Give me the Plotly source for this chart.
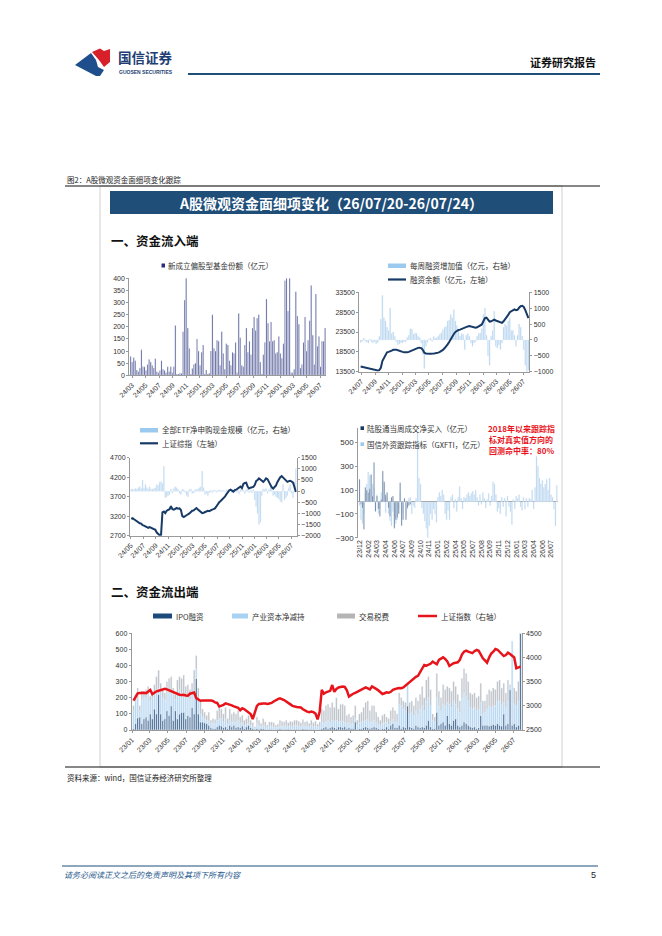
import pandas as pd
import plotly.graph_objects as go

W, H = 662, 936
END = "2026-07-24"
OFF = 8  # the page body adds an 8px margin around the figure

# ---------------- data (weekly) ----------------
# 新成立偏股型基金份额（亿元）
fund_new = [78, 55, 72, 60, 22, 15, 30, 105, 35, 35,
            20, 45, 65, 55, 40, 30, 68, 15, 10,
            20, 60, 25, 20, 10, 35, 15, 35, 10,
            35, 205, 5, 5, 8, 8, 180, 310, 400,
            195, 110, 5, 28, 45, 50, 150, 100, 40,
            95, 125, 5, 22, 5, 8, 100, 250, 110,
            100, 145, 140, 40, 180, 90, 25, 130, 125,
            60, 40, 95, 90, 135, 10, 255, 155, 40,
            35, 125, 195, 95, 140, 85, 195, 240, 185,
            235, 250, 55, 5, 85, 135, 315, 215, 140,
            220, 140, 145, 90, 95, 160, 90, 70, 130,
            390, 400, 265, 400, 10, 10, 25, 345, 245,
            210, 30, 45, 135, 240, 100, 145, 225, 370,
            165, 45, 335, 120, 160, 35, 140, 140, 195]

# 融资余额（亿元，左轴）
margin_bal = [14800, 14700, 14600, 14500, 14400, 14300, 14250, 14200, 14100, 14000,
              13900, 13800, 13900, 14500, 16200, 17000, 17800, 18400, 18500, 18600,
              18800, 19000, 19100, 19050, 18900, 18700, 18600, 18500, 18400, 18350,
              18400, 18500, 18700, 18900, 19000, 19200, 19400, 19500, 19550, 19450,
              19000, 18300, 18100, 18000, 18000, 18050, 18000, 18100, 18150, 18200,
              18300, 18500, 18700, 19000, 19400, 19800, 20400, 21000, 21800, 22500,
              23000, 23500, 23800, 24000, 24100, 24300, 24500, 24600, 24700, 24900,
              25000, 24900, 24700, 24600, 24600, 24700, 24900, 25100, 25400, 26200,
              27000, 27100, 26600, 26100, 26200, 26500, 26600, 26400, 26200, 26100,
              25900, 25800, 26200, 26700, 27100, 27800, 28500, 28800, 29100, 29200,
              29000, 29100, 29600, 30000, 30100, 29800, 29000, 28000, 27000]
# 每周融资增加值（亿元，右轴）
margin_chg = [-80, -50, 60, -40, -70, -100, 30, -60, -90, -50,
              -120, -80, 120, 650, 1400, 700, 600, 400, 300, 1000,
              200, 250, 120, -60, -150, -120, -100, -90, -50, -60,
              80, 150, 350, 340, 180, 220, 200, 120, 80, -100,
              -450, -900, -200, -80, 20, 60, -40, 110, 60, 70,
              120, 180, 230, 320, 400, 420, 600, 620, 800, 700,
              950, 600, 450, 280, 120, 200, 180, -300, 150, 200,
              120, -100, -200, -100, -60, 120, 200, 220, 350, 800,
              1000, 150, -500, -800, 120, 300, 900, -200, -250, -150,
              -300, -100, 400, 500, 450, 600, 700, 300, 300, 150,
              -200, 150, 500, 400, 120, -300, -800, -1000, -950]

# 上证综指（左轴）
sh_index_a = [3130, 3150, 3120, 3090, 3060, 3040, 3020, 3010, 2970, 2960,
              2940, 2930, 2900, 2920, 2900, 2880, 2860, 2850, 2780, 2740,
              2710, 2720, 3300, 3320, 3280, 3340, 3360, 3380, 3460, 3380,
              3370, 3400, 3410, 3390, 3400, 3360, 3200, 3180, 3210, 3240,
              3250, 3270, 3320, 3340, 3350, 3380, 3410, 3370, 3340, 3320,
              3280, 3290, 3310, 3320, 3340, 3330, 3360, 3370, 3380, 3400,
              3450, 3510, 3560, 3590, 3620, 3660, 3700, 3760, 3820, 3860,
              3880, 3850, 3830, 3870, 3880, 3910, 3940, 3960, 3920, 4030,
              4050, 4060, 3960, 3910, 3930, 3940, 3950, 4000, 4100, 4130,
              4170, 4140, 4120, 4080, 4120, 4170, 4150, 4080, 3980, 3940,
              3910, 3950, 3990, 4080, 4150, 4200, 4230, 4190, 4160, 4120,
              4080, 4100, 4110, 4090, 4060, 3950, 3820]
# 全部ETF净申购现金规模（亿元，右轴）
etf_flow = [80, 100, 60, 120, 90, 150, 200, 120, 500, 130,
            300, 150, 100, 200, 100, 80, 120, 150, 300, 250,
            400, 420, 350, 1100, -300, -250, -200, -150, 100, -80,
            120, 200, 150, 80, -100, -150, 80, 60, -50, -200,
            -250, 60, 100, -100, -80, 80, 50, 100, 150, 200,
            900, 150, -150, -100, -200, -80, 50, -60, 40, 30,
            -50, 30, 60, -40, 50, 30, -40, 60, 50, 80,
            100, -80, 60, 120, -60, 100, -120, 60, 80, 40,
            -100, 60, 120, -60, 50, -80, 80, -400, -700, -1000,
            -1500, -1400, -200, 100, 80, 120, -100, 60, 150, 100,
            -200, -150, -250, -300, -350, -450, -500, 300, -400, -300,
            -200, 150, 300, -100, -300, 400, 1000]

# 陆股通当周成交净买入（亿元）
hk_north = [190, -20, -50, -230, 120, 100, 80, 110, 230, 50,
            330, -80, 50, -60, -120, 20, 260, 170, 60, 80,
            -50, -120, 40, 50, -220, -150, -130, -100, 160, -200,
            -150, 30, -150, -50, -30, -20]
# 国信外资跟踪指标（GXFTI，亿元）
gxfti = [-30, -150, -180, -100, 80, 150, 250, 220, 100, 150,
         120, -80, 60, -100, -60, 80, 180, 150, -90, 40,
         -100, -160, -200, -80, -120, -180, -150, -60, 80, -100,
         -90, 20, -110, -60, 30, 40, -100, -30, -50, 30,
         590, 200, 150, -50, -100, -160, -220, -300, -200, -100,
         -150, -60, -100, -170, 40, 80, 50, 100, 60, -100,
         -150, -70, -150, 40, 60, -50, 20, -80, 40, 130,
         30, -60, 40, 30, 60, 80, 50, 70, 90, 60,
         100, 40, -30, 60, -20, 80, 30, -50, 20, 70,
         -30, 50, 170, 150, 60, -80, -50, -100, 40, -40,
         30, -120, 50, -40, -80, -190, 20, -60, 50, 30,
         60, -40, -70, 40, -60, 30, -40, 30, 20, 100,
         -60, 120, 380, 300, 200, 150, 180, 120, 150, 190,
         100, 200, 60, 40, -60, -200, 140]
gxfti_ticks = ["23/12", "24/02", "24/03", "24/04", "24/06", "24/07", "24/09", "24/10",
               "24/11", "25/01", "25/02", "25/04", "25/05", "25/07", "25/08", "25/09",
               "25/11", "25/12", "26/01", "26/03", "26/04", "26/06", "26/07"]

# 资金流出端（亿元）与上证指数（右轴）
out_ipo = [10, 40, 75, 80, 40, 70, 80, 60, 100, 70, 130, 100,
           220, 100, 60, 70, 120, 90, 150, 60, 120, 70, 100, 110,
           110, 70, 90, 80, 140, 100, 320, 100, 50, 50, 45, 40,
           30, 15, 10, 10, 20, 30, 25, 15, 20, 10, 30, 20,
           30, 15, 20, 15, 25, 10, 20, 30, 15, 10, 5, 10,
           5, 10, 8, 5, 3, 5, 5, 3, 3, 5, 8, 5,
           3, 5, 5, 5, 3, 5, 5, 5, 3, 8, 5, 5,
           3, 5, 5, 3, 3, 5, 10, 15, 20, 10, 15, 20,
           15, 10, 20, 20, 15, 20, 10, 15, 10, 10, 50, 5,
           10, 10, 15, 20, 15, 10, 15, 20, 15, 10, 5, 10,
           10, 20, 10, 30, 40, 15, 15, 30, 10, 20, 15, 150,
           20, 15, 10, 30, 20, 15, 20, 15, 30, 60, 20, 10,
           10, 110, 30, 40, 50, 30, 90, 40, 30, 60, 70, 30,
           20, 30, 50, 40, 30, 20, 15, 20, 10, 15, 90, 30,
           30, 30, 25, 30, 35, 30, 40, 30, 25, 100, 30, 40,
           250, 30, 40, 20, 30, 600]
out_holder = [110, 140, 125, 40, 150, 130, 120, 160, 80, 130, 100, 150,
              40, 140, 140, 120, 110, 140, 80, 160, 70, 160, 150, 120,
              120, 130, 120, 110, 80, 140, 60, 100, 50, 30, 25, 20,
              25, 25, 35, 30, 40, 40, 45, 35, 50, 30, 30, 30,
              25, 35, 40, 25, 20, 20, 15, 15, 15, 15, 5, 30,
              20, 10, 22, 20, 12, 20, 20, 17, 12, 13, 17, 20,
              22, 23, 17, 20, 19, 23, 23, 20, 17, 22, 20, 20,
              17, 23, 17, 22, 15, 17, 40, 30, 35, 50, 35, 40,
              40, 50, 30, 35, 40, 30, 30, 30, 25, 30, 20, 25,
              35, 40, 40, 40, 50, 40, 40, 40, 30, 25, 25, 30,
              35, 30, 25, 25, 25, 35, 35, 130, 140, 110, 105, 130,
              80, 95, 80, 90, 80, 115, 130, 105, 150, 140, 130, 50,
              40, 90, 120, 80, 110, 120, 80, 120, 110, 120, 90, 100,
              90, 170, 180, 170, 150, 120, 115, 120, 110, 115, 80, 70,
              80, 100, 125, 110, 115, 120, 140, 150, 135, 70, 110, 140,
              20, 520, 120, 130, 150, 0]
out_fee = [30, 40, 60, 30, 50, 40, 50, 50, 30, 40, 50, 80,
           110, 50, 50, 40, 70, 90, 100, 40, 30, 80, 80, 90,
           110, 70, 70, 60, 70, 130, 80, 60, 80, 50, 40, 30,
           55, 20, 25, 25, 60, 70, 60, 50, 70, 30, 70, 50,
           55, 50, 60, 40, 45, 30, 35, 45, 30, 20, 10, 40,
           35, 20, 40, 25, 15, 25, 25, 25, 15, 17, 35, 30,
           25, 32, 23, 30, 28, 32, 32, 30, 25, 35, 25, 30,
           20, 32, 23, 30, 17, 28, 80, 75, 95, 100, 90, 110,
           85, 140, 80, 105, 105, 100, 50, 55, 45, 50, 80, 30,
           55, 60, 85, 110, 115, 70, 95, 90, 65, 45, 30, 50,
           55, 30, 35, 65, 75, 70, 50, 70, 50, 50, 50, 10,
           70, 70, 60, 80, 80, 90, 120, 80, 130, 130, 100, 40,
           30, 150, 90, 80, 120, 100, 100, 100, 100, 120, 110, 90,
           70, 120, 150, 140, 120, 90, 90, 90, 80, 80, 120, 80,
           70, 90, 100, 100, 110, 100, 120, 130, 100, 120, 90, 130,
           10, 0, 100, 90, 120, 0]
out_sh = [3106, 3190, 3258, 3265, 3270, 3268, 3262, 3290, 3327, 3240, 3280, 3300,
          3313, 3330, 3348, 3350, 3340, 3320, 3300, 3280, 3258, 3245, 3230, 3223,
          3230, 3215, 3210, 3250, 3270, 3275, 3160, 3130, 3106, 3110, 3115, 3120,
          3110, 3108, 3100, 3070, 3060, 2985, 3000, 3020, 3050, 3040, 3030, 3010,
          2990, 2970, 2960, 2910, 2950, 2930, 2900, 2860, 2830, 2727, 2880, 3000,
          3040, 3050, 3050, 3048, 3040, 3050, 3060, 3090, 3120, 3140, 3155, 3140,
          3120, 3090, 3050, 3030, 3000, 2982, 2975, 2970, 2965, 2930, 2900, 2880,
          2870, 2880, 2870, 2840, 2720, 2880, 3330, 3250, 3280, 3300, 3310, 3430,
          3290, 3350, 3380, 3390, 3400, 3390, 3320, 3190, 3230, 3250, 3270, 3290,
          3310, 3330, 3360, 3380, 3360, 3340, 3400, 3380, 3350, 3320, 3290, 3244,
          3260, 3280, 3270, 3290, 3330, 3350, 3360, 3370, 3365, 3380, 3420, 3450,
          3490, 3530, 3570, 3600, 3620, 3700, 3780, 3845, 3830, 3850, 3870, 3914,
          3880, 3860, 3948, 3980, 4003, 3970, 3920, 3824, 3860, 3880, 3890, 3900,
          3950, 4060, 4120, 4141, 4120, 4110, 4090, 4130, 4155, 4140, 4050, 3983,
          3940, 3893, 4000, 4080, 4120, 4176, 4160, 4120, 4060, 4030, 4050, 4100,
          4070, 4040, 4000, 3776, 3800, 3810]


def weeks(vals):
    return pd.date_range(end=END, periods=len(vals), freq="7D")


def px(x):
    return (x - OFF) / W


def py(y):
    return 1 - (y - OFF) / H


def xr(d):
    return [d[0] - pd.Timedelta(days=6), d[-1] + pd.Timedelta(days=4)]


d1 = weeks(fund_new)
d2 = weeks(margin_bal)
d3 = weeks(sh_index_a)
d4 = weeks(gxfti)
d5 = weeks(out_sh)

NAVY = "#173a66"
LBLUE = "#9ccaee"
RED = "#e8141b"
TXT = "#333333"
AX = "#9a9a9a"
FONT = "Liberation Sans, Noto Sans CJK SC, sans-serif"
CJK = "Noto Sans CJK SC, sans-serif"

fig = go.Figure()

# chart 1
fig.add_trace(go.Bar(x=d1, y=fund_new, marker_color="#1c1d6b", xaxis="x", yaxis="y"))
# chart 2
fig.add_trace(go.Bar(x=d2, y=margin_chg, marker_color=LBLUE, xaxis="x2", yaxis="y2"))
fig.add_trace(go.Scatter(x=d2, y=margin_bal, mode="lines", line=dict(color=NAVY, width=2),
                         xaxis="x2", yaxis="y3"))
# chart 3
fig.add_trace(go.Bar(x=d3, y=etf_flow, marker_color=LBLUE, xaxis="x3", yaxis="y4"))
fig.add_trace(go.Scatter(x=d3, y=sh_index_a, mode="lines", line=dict(color=NAVY, width=2),
                         xaxis="x3", yaxis="y5"))
# chart 4
fig.add_trace(go.Bar(x=d4, y=gxfti, marker_color=LBLUE, xaxis="x4", yaxis="y6"))
fig.add_trace(go.Bar(x=d4[:len(hk_north)], y=hk_north, marker_color=NAVY, xaxis="x4", yaxis="y6"))
# chart 5 (stacked by hand with base)
base2 = [a + b for a, b in zip(out_ipo, out_holder)]
fig.add_trace(go.Bar(x=d5, y=out_ipo, marker_color="#1d4a7a", xaxis="x5", yaxis="y7"))
fig.add_trace(go.Bar(x=d5, y=out_holder, base=out_ipo, marker_color="#a8d2f2", xaxis="x5", yaxis="y7"))
fig.add_trace(go.Bar(x=d5, y=out_fee, base=base2, marker_color="#b5b5b5", xaxis="x5", yaxis="y7"))
fig.add_trace(go.Scatter(x=d5, y=out_sh, mode="lines", line=dict(color=RED, width=2.5),
                         xaxis="x5", yaxis="y8"))

tick = dict(size=7, color=TXT, family=FONT)


def xdate(dom, anchor, d, t0, angle=-45):
    return dict(domain=dom, anchor=anchor, type="date", range=xr(d), tickformat="%y/%m",
                dtick="M2", tick0=t0, tickangle=angle, showline=True, linecolor=AX,
                linewidth=1, ticks="outside", ticklen=2, tickcolor=AX, tickfont=tick,
                showgrid=False, zeroline=False, automargin=False)


def yax(dom, rng, dt, t0=0, side="left", overlay=None, anchor=None, **kw):
    a = dict(domain=dom, range=rng, dtick=dt, tick0=t0, side=side, showline=True,
             linecolor=AX, linewidth=1, ticks="outside", ticklen=2, tickcolor=AX,
             tickfont=tick, tickformat="d", showgrid=False, zeroline=False,
             anchor=anchor, automargin=False)
    if overlay:
        a["overlaying"] = overlay
    a.update(kw)
    return a


X1 = [px(129.3), px(326)]
Y1 = [py(375.3), py(278.3)]
X2 = [px(359.3), px(529.3)]
Y2 = [py(371.7), py(292.3)]
X3 = [px(130), px(296.7)]
Y3 = [py(535.7), py(457.7)]
X4 = [px(358.3), px(557.7)]
Y4 = [py(537.7), py(428)]
X5 = [px(131.7), px(521.7)]
Y5 = [py(730), py(633.3)]

fig.update_layout(
    width=W, height=H, margin=dict(l=0, r=0, t=0, b=0, autoexpand=False),
    paper_bgcolor="white", plot_bgcolor="rgba(0,0,0,0)",
    showlegend=False, barmode="overlay", bargap=0.35,
    font=dict(family=FONT, color=TXT),
    xaxis=xdate(X1, "y", d1, "2024-03-01"),
    yaxis=yax(Y1, [0, 400], 50, anchor="x"),
    xaxis2=xdate(X2, "y2", d2, "2024-07-01"),
    yaxis2=yax(Y2, [-1000, 1500], 500, side="right", anchor="x2"),
    yaxis3=yax(Y2, [13500, 33500], 5000, t0=13500, side="left", overlay="y2", anchor="x2"),
    xaxis3=xdate(X3, "y4", d3, "2024-05-01"),
    yaxis4=yax(Y3, [-2000, 1500], 500, side="right", anchor="x3"),
    yaxis5=yax(Y3, [2700, 4700], 500, t0=2700, side="left", overlay="y4", anchor="x3"),
    xaxis4=dict(domain=X4, anchor="y6", type="date", range=xr(d4),
                tickvals=list(d4[::6][:len(gxfti_ticks)]), ticktext=gxfti_ticks,
                tickangle=-90, showline=False, ticks="", tickfont=tick, showgrid=False,
                zeroline=False, automargin=False),
    yaxis6=yax(Y4, [-300, 620], None, anchor="x4", tickvals=[-300, -100, 100, 300, 500],
               zeroline=True, zerolinecolor=AX, zerolinewidth=1,
               tickfont=dict(size=8, color=TXT, family=FONT)),
    xaxis5=xdate(X5, "y7", d5, "2023-01-01"),
    yaxis7=yax(Y5, [0, 600], 100, side="left", anchor="x5"),
    yaxis8=yax(Y5, [2500, 4500], 500, side="right", overlay="y7", anchor="x5"),
)

shapes = []
ann = []


def line(x0, y0, x1, y1, color, width=1, dash=None):
    shapes.append(dict(type="line", xref="paper", yref="paper", x0=px(x0), y0=py(y0),
                       x1=px(x1), y1=py(y1), line=dict(color=color, width=width, dash=dash)))


def rect(x0, y0, x1, y1, fill, lc=None, lw=0):
    shapes.append(dict(type="rect", xref="paper", yref="paper", x0=px(x0), y0=py(y0),
                       x1=px(x1), y1=py(y1), fillcolor=fill,
                       line=dict(color=lc or fill, width=lw)))


def poly(pts, fill):
    path = "M " + " L ".join(f"{px(x):.5f},{py(y):.5f}" for x, y in pts) + " Z"
    shapes.append(dict(type="path", xref="paper", yref="paper", path=path,
                       fillcolor=fill, line=dict(width=0)))


def text(x, y, s, size=7.5, color=TXT, xa="left", ya="middle", family=CJK):
    ann.append(dict(x=px(x), y=py(y), xref="paper", yref="paper", text=s, showarrow=False,
                    xanchor=xa, yanchor=ya, font=dict(size=size, color=color, family=family)))


# page header
poly([(75, 65), (91, 53), (96, 60), (98, 67), (104, 70), (100, 76), (96, 76)], "#1f4e8c")
poly([(92, 52), (100, 48.5), (104, 51), (110, 49), (110, 62), (104, 67), (99, 60)], "#d7202a")
text(116, 57, "<b>国信证券</b>", size=13.5, color="#1f3f74")
text(117, 72.5, "<b>GUOSEN SECURITIES</b>", size=5, color="#1f3f74", family=FONT)
text(598, 62, "<b>证券研究报告</b>", size=11, color="#111111", xa="right")
line(188, 74, 600, 74, "#1f4e79", 2)

# figure frame
text(65, 179, "图2：A股微观资金面细项变化跟踪", size=7.5, color="#222222")
rect(100, 186, 562, 767, "rgba(0,0,0,0)", "#d0d0d0", 1)
line(65, 186, 600, 186, "#111111", 1)
rect(110, 191, 553, 214, "#1f4e79")
text(331, 202.5, "<b>A股微观资金面细项变化（26/07/20-26/07/24）</b>", size=14,
     color="white", xa="center")
text(109, 240, "<b>一、资金流入端</b>", size=12.5, color="#111111")
text(109, 591, "<b>二、资金流出端</b>", size=12.5, color="#111111")
line(65, 767, 600, 767, "#111111", 1)
text(65, 777, "资料来源：wind，国信证券经济研究所整理", size=7.5, color="#222222")
line(62, 866, 598, 866, "#1f4e79", 1)
text(62, 874, "<i>请务必阅读正文之后的免责声明及其项下所有内容</i>", size=8, color="#2a5a8c")
text(598, 875, "5", size=9, color="#222222", xa="right", family=FONT)

# legends chart 1
rect(161.5, 263.5, 165, 267.5, "#2b2d7c")
text(166, 265.7, "新成立偏股型基金份额（亿元）")
# chart 2
rect(388, 263.5, 406, 268, LBLUE)
text(408, 265.8, "每周融资增加值（亿元，右轴）")
line(388, 279.5, 406, 279.5, NAVY, 2.2)
text(408, 279.5, "融资余额（亿元，左轴）")
# chart 3
rect(140, 428, 158, 432.5, LBLUE)
text(160, 430, "全部ETF净申购现金规模（亿元，右轴）")
line(140, 443.3, 158, 443.3, NAVY, 2.2)
text(160, 443.3, "上证综指（左轴）")
# chart 4
rect(360.5, 426.3, 364, 430, NAVY)
text(365, 428.2, "陆股通当周成交净买入（亿元）")
rect(360.5, 442.3, 364, 446, LBLUE)
text(365, 444.2, "国信外资跟踪指标（GXFTI，亿元）")
text(521, 429, "<b>2018年以来跟踪指</b>", size=8, color=RED, xa="center")
text(521, 439.5, "<b>标对真实值方向的</b>", size=8, color=RED, xa="center")
text(521, 450, "<b>回测命中率：80%</b>", size=8, color=RED, xa="center")
# chart 5
rect(153, 613.5, 172, 618.5, "#1d4a7a")
text(174, 616, "IPO融资")
rect(232, 613.5, 248, 618.5, "#a8d2f2")
text(250, 616, "产业资本净减持")
rect(337, 613.5, 355, 618.5, "#b5b5b5")
text(357, 616, "交易税费")
line(418, 616, 437, 616, RED, 2.5)
text(439, 616, "上证指数（右轴）")

fig.update_layout(shapes=shapes, annotations=ann)
fig.write_html("out.html", config={"displayModeBar": False})
